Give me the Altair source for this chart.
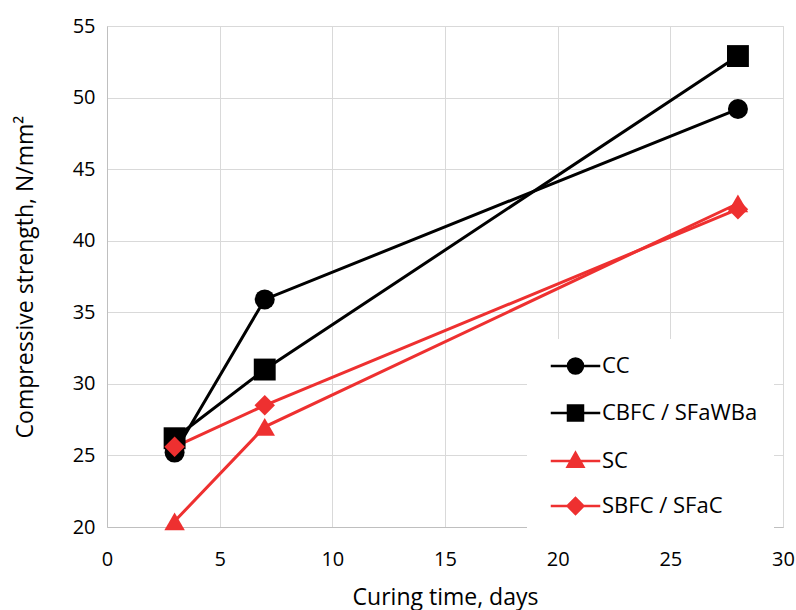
import altair as alt
import pandas as pd

series_names = ["CC", "CBFC / SFaWBa", "SC", "SBFC / SFaC"]
days = [3, 7, 28]
cc = [25.2, 35.9, 49.2]
cbfc = [26.2, 31.0, 52.9]
sc = [20.4, 27.0, 42.6]
sbfc = [25.6, 28.5, 42.2]

series_values = [cc, cbfc, sc, sbfc]
rows = []
for name, vals in zip(series_names, series_values):
    for d, v in zip(days, vals):
        rows.append({"series": name, "day": d, "strength": v})
df = pd.DataFrame(rows)

BLACK = "#000000"
RED = "#EE3030"
colors = [BLACK, BLACK, RED, RED]
plot_shapes = ["circle", "square", "triangle-up", "diamond"]
plot_sizes = [400, 480, 420, 420]
legend_paths = [
    "M-3.3,0L3.3,0M-1,0A1,1,0,1,1,1,0A1,1,0,1,1,-1,0Z",
    "M-3.3,0L3.3,0M-1,-1L1,-1L1,1L-1,1Z",
    "M-3.3,0L3.3,0M0,-1.1L1.05,0.75L-1.05,0.75Z",
    "M-3.3,0L3.3,0M-1.05,0L0,-1.05L1.05,0L0,1.05Z",
]

FONT = "Open Sans"

x_scale = alt.Scale(domain=[0, 30], zero=False, nice=False)
y_scale = alt.Scale(domain=[20, 55], zero=False, nice=False)
x_enc = alt.X("day:Q", scale=x_scale,
              axis=alt.Axis(values=[0, 5, 10, 15, 20, 25, 30], title="Curing time, days"))
y_enc = alt.Y("strength:Q", scale=y_scale,
              axis=alt.Axis(values=[20, 25, 30, 35, 40, 45, 50, 55],
                            title="Compressive strength, N/mm²"))

color_scale = alt.Scale(domain=series_names, range=colors)

lines = alt.Chart(df).mark_line(strokeWidth=3).encode(
    x=x_enc, y=y_enc,
    stroke=alt.Stroke("series:N", scale=color_scale, legend=None),
    detail="series:N",
)

layers = [lines]
for name, col, shp, sz in zip(series_names, colors, plot_shapes, plot_sizes):
    pts = alt.Chart(df).transform_filter(alt.datum.series == name).mark_point(
        filled=True, shape=shp, size=sz, color=col, opacity=1
    ).encode(x=x_enc, y=y_enc)
    layers.append(pts)

leg = alt.Legend(
    orient="none", legendX=420, legendY=313, title=None,
    fillColor="white", padding=16, labelFontSize=22, labelFont=FONT,
    labelColor="#000000", symbolSize=225, symbolStrokeWidth=2.5,
    symbolOffset=21.5, labelOffset=15.5, rowPadding=21, symbolOpacity=1,
    labelLimit=300,
)

legend_layer = alt.Chart(df).mark_point(filled=True, size=0).encode(
    x=x_enc, y=y_enc,
    fill=alt.Fill("series:N", scale=color_scale, legend=leg),
    stroke=alt.Stroke("series:N", scale=color_scale, legend=leg),
    shape=alt.Shape("series:N", scale=alt.Scale(domain=series_names, range=legend_paths), legend=leg),
)

chart = alt.layer(legend_layer, *layers).properties(
    width=676, height=501,
    autosize=alt.AutoSizeParams(type="none"),
    padding={"left": 107, "top": 26, "right": 13, "bottom": 83},
    background="white",
).configure_view(
    stroke="#d9d9d9", strokeWidth=1
).configure_axis(
    grid=True, gridColor="#d9d9d9", gridWidth=1,
    domainColor="#bfbfbf", domainWidth=1, ticks=False, labelFlush=False,
    labelFont=FONT, labelFontSize=20, labelColor="#000000",
    titleFont=FONT, titleFontSize=23, titleColor="#000000", titleFontWeight="normal",
).configure_axisX(
    labelPadding=22, titlePadding=17,
).configure_axisY(
    labelPadding=12, titlePadding=35,
)

chart.save("out.html", embed_options={"renderer": "svg", "actions": False})
